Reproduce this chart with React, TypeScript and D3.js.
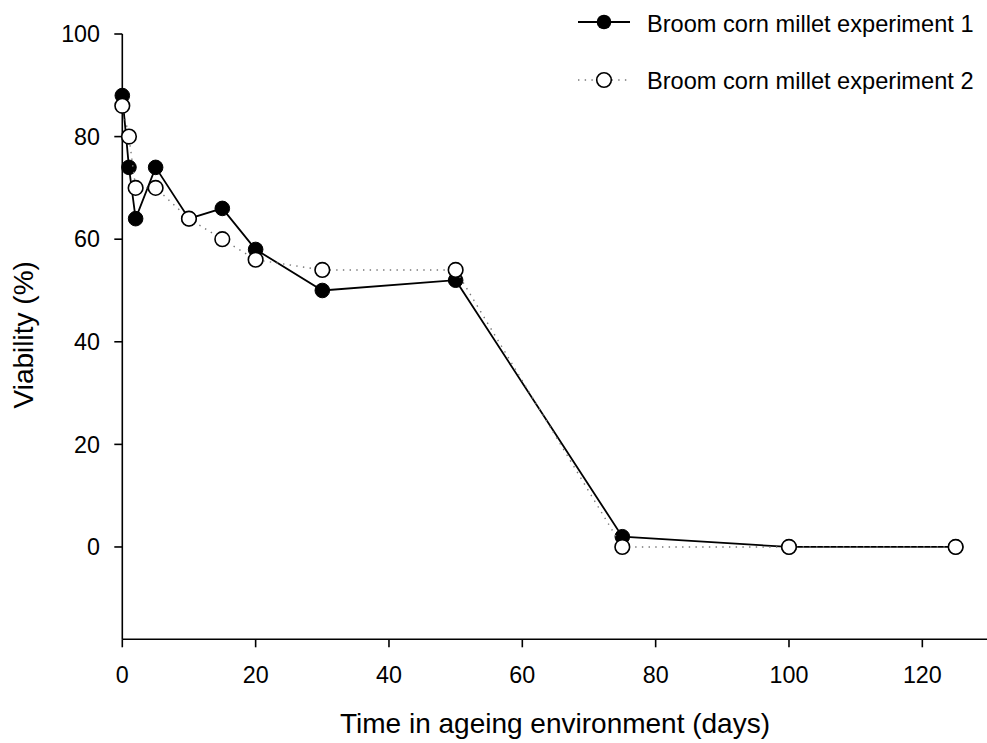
import React from "react";
import * as d3 from "d3";

const days1 = [0, 1, 2, 5, 10, 15, 20, 30, 50, 75, 100, 125];
const viability1 = [88, 74, 64, 74, 64, 66, 58, 50, 52, 2, 0, 0];
const days2 = [0, 1, 2, 5, 10, 15, 20, 30, 50, 75, 100, 125];
const viability2 = [86, 80, 70, 70, 64, 60, 56, 54, 54, 0, 0, 0];
const xTicks = [0, 20, 40, 60, 80, 100, 120];
const yTicks = [0, 20, 40, 60, 80, 100];
const seriesNames = ["Broom corn millet experiment 1", "Broom corn millet experiment 2"];

const W = 987;
const H = 743;
const FONT = "'Liberation Sans', Arial, Helvetica, sans-serif";

export default function App() {
  const x = d3.scaleLinear().domain([0, 130]).range([122.3, 989]);
  const y = d3.scaleLinear().domain([-18, 100]).range([639.3, 34]);
  const line = d3
    .line<[number, number]>()
    .x((d) => x(d[0]))
    .y((d) => y(d[1]));
  const s1: [number, number][] = days1.map((d, i) => [d, viability1[i]]);
  const s2: [number, number][] = days2.map((d, i) => [d, viability2[i]]);
  const r = 7.3;
  const x0 = x.range()[0];
  const yB = y.range()[0];
  const yT = y(100);

  return (
    <svg
      width={W}
      height={H}
      style={{ position: "absolute", left: 0, top: 0, background: "#fff" }}
      fontFamily={FONT}
    >
      <rect width={W} height={H} fill="#fff" />
      {/* axes */}
      <line x1={x0} x2={x0} y1={yT} y2={yB} stroke="#000" strokeWidth={1.6} />
      <line x1={x0} x2={x.range()[1]} y1={yB} y2={yB} stroke="#000" strokeWidth={1.6} />
      {yTicks.map((t) => (
        <g key={"y" + t}>
          <line x1={x0 - 8} x2={x0} y1={y(t)} y2={y(t)} stroke="#000" strokeWidth={1.6} />
          <text x={100} y={y(t)} dy="0.35em" textAnchor="end" fontSize={23.3} fill="#000">
            {t}
          </text>
        </g>
      ))}
      {xTicks.map((t) => (
        <g key={"x" + t}>
          <line x1={x(t)} x2={x(t)} y1={yB} y2={yB + 8} stroke="#000" strokeWidth={1.6} />
          <text x={x(t)} y={683} textAnchor="middle" fontSize={23.3} fill="#000">
            {t}
          </text>
        </g>
      ))}
      <text x={555} y={733} textAnchor="middle" fontSize={28} fill="#000">
        Time in ageing environment (days)
      </text>
      <text
        transform={`translate(33, ${y(40) - 7}) rotate(-90)`}
        textAnchor="middle"
        fontSize={28}
        fill="#000"
      >
        Viability (%)
      </text>

      {/* series 1 */}
      <path d={line(s1) || ""} fill="none" stroke="#000" strokeWidth={1.8} />
      {s1.map((d, i) => (
        <circle key={"a" + i} cx={x(d[0])} cy={y(d[1])} r={r} fill="#000" stroke="#000" strokeWidth={1} />
      ))}
      {/* series 2 */}
      <path
        d={line(s2) || ""}
        fill="none"
        stroke="#777"
        strokeWidth={1.4}
        strokeDasharray="1.4,5.3"
      />
      {s2.map((d, i) => (
        <circle key={"b" + i} cx={x(d[0])} cy={y(d[1])} r={r} fill="#fff" stroke="#000" strokeWidth={1.6} />
      ))}

      {/* legend */}
      <line x1={578} x2={630} y1={22} y2={22} stroke="#000" strokeWidth={1.8} />
      <circle cx={604} cy={22} r={r} fill="#000" />
      <text x={647} y={31.5} fontSize={23.6} fill="#000">
        {seriesNames[0]}
      </text>
      <line x1={578} x2={630} y1={80} y2={80} stroke="#777" strokeWidth={1.4} strokeDasharray="1.4,5.3" />
      <circle cx={604} cy={80} r={r} fill="#fff" stroke="#000" strokeWidth={1.6} />
      <text x={647} y={89} fontSize={23.6} fill="#000">
        {seriesNames[1]}
      </text>
    </svg>
  );
}
